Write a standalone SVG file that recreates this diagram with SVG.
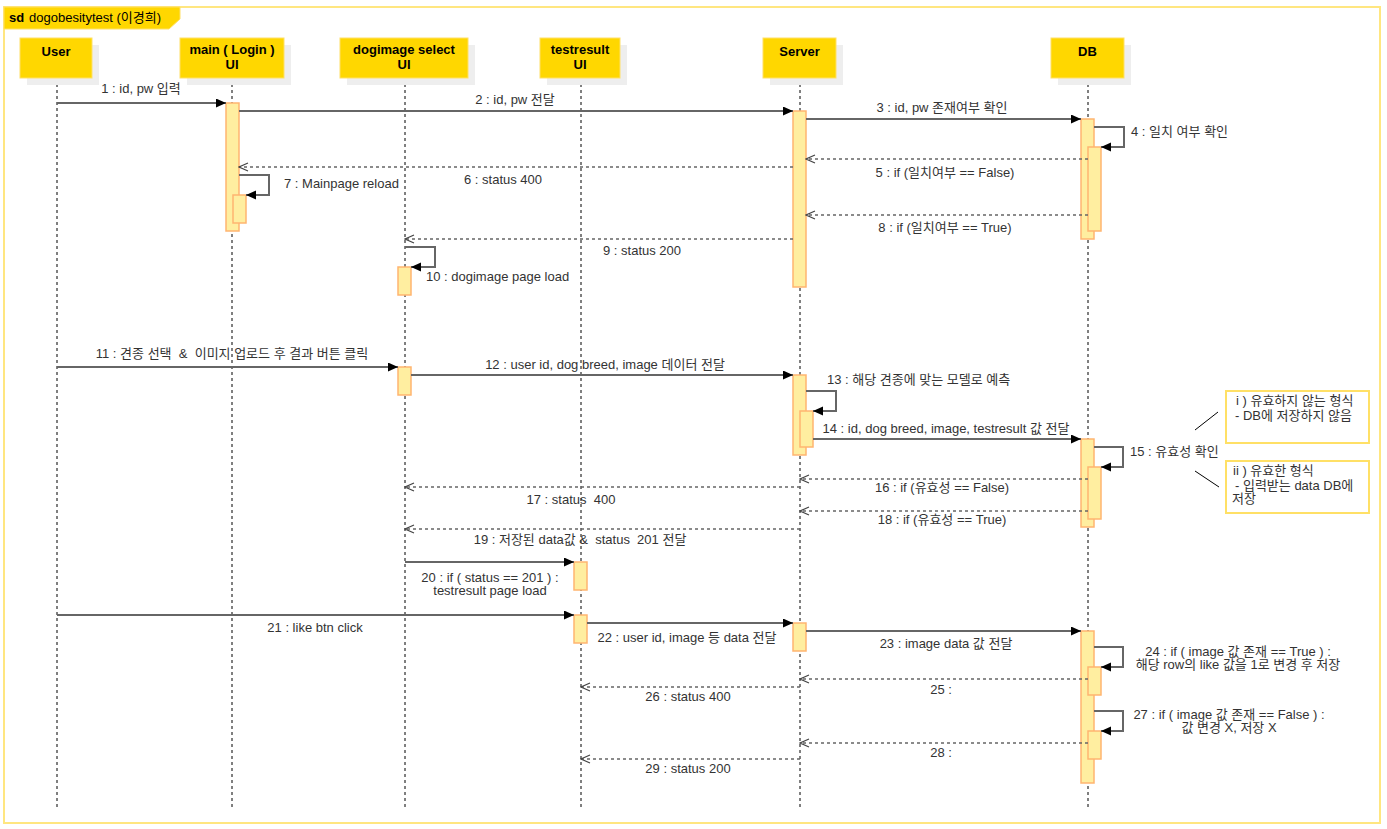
<svg xmlns="http://www.w3.org/2000/svg" width="1387" height="829" viewBox="0 0 1387 829">
<style>
text{font-family:"Liberation Sans","Noto Sans CJK KR",sans-serif;font-size:13px;fill:#333;white-space:pre}
.hd{font-weight:bold;fill:#000;text-anchor:middle}
.c{text-anchor:middle}
.hbox{fill:#FFD700;stroke:#FFE066;stroke-width:1}
.sh{fill:#EEEEEE}
.life{stroke:#000;stroke-width:1;stroke-dasharray:3 3;fill:none}
.act{fill:#FFEEA0;stroke:#FFB570;stroke-width:1.5}
.msg{stroke:#666;stroke-width:2;fill:none;marker-end:url(#block)}
.ret{stroke:#666;stroke-width:1.5;stroke-dasharray:3 3;fill:none;marker-end:url(#open)}
.note{fill:#fff;stroke:#FFE066;stroke-width:2}
.nl{stroke:#000;stroke-width:1;fill:none}
</style>
<defs>
<marker id="block" markerUnits="userSpaceOnUse" markerWidth="11" markerHeight="10" refX="10" refY="4.5" orient="auto"><path d="M0,0 L10,4.5 L0,9 z" fill="#000"/></marker>
<marker id="open" markerUnits="userSpaceOnUse" markerWidth="11" markerHeight="10" refX="9.5" refY="4.5" orient="auto"><path d="M0.5,0.5 L9.5,4.5 L0.5,8.5" fill="none" stroke="#444" stroke-width="1.2"/></marker>
</defs>
<rect width="1387" height="829" fill="#fff"/>
<g id="frame">
<rect x="4" y="7" width="1376" height="816" fill="none" stroke="#FFE680" stroke-width="2"/>
<polygon points="4,7 180,7 180,19 169,29 4,29" fill="#FFD700" stroke="#FFE066" stroke-width="1"/>
<text x="9" y="22" style="font-weight:bold;fill:#000">sd</text>
<text x="29" y="22" style="fill:#000">dogobesitytest (이경희)</text>
</g>
<g id="lifelines">
<line class="life" x1="57" y1="78" x2="57" y2="807"/>
<line class="life" x1="232" y1="78" x2="232" y2="807"/>
<line class="life" x1="405" y1="78" x2="405" y2="807"/>
<line class="life" x1="581" y1="78" x2="581" y2="807"/>
<line class="life" x1="800" y1="78" x2="800" y2="807"/>
<line class="life" x1="1088" y1="78" x2="1088" y2="807"/>
</g>
<g id="user"><rect class="sh" x="27" y="45" width="72" height="40"/><rect class="hbox" x="20" y="38" width="72" height="40"/><text class="hd" x="56" y="56">User</text></g>
<g id="main-ui"><rect class="sh" x="187" y="45" width="104" height="40"/><rect class="hbox" x="180" y="38" width="104" height="40"/><text class="hd" x="232" y="54">main ( Login )</text><text class="hd" x="232" y="68.6">UI</text></g>
<g id="dogimage-ui"><rect class="sh" x="347" y="45" width="128" height="40"/><rect class="hbox" x="340" y="38" width="128" height="40"/><text class="hd" x="404" y="54">dogimage select</text><text class="hd" x="404" y="68.6">UI</text></g>
<g id="testresult-ui"><rect class="sh" x="547" y="45" width="80" height="40"/><rect class="hbox" x="540" y="38" width="80" height="40"/><text class="hd" x="580" y="54">testresult</text><text class="hd" x="580" y="68.6">UI</text></g>
<g id="server"><rect class="sh" x="770" y="45" width="73" height="40"/><rect class="hbox" x="763" y="38" width="73" height="40"/><text class="hd" x="799.5" y="56">Server</text></g>
<g id="db"><rect class="sh" x="1058" y="45" width="73" height="40"/><rect class="hbox" x="1051" y="38" width="73" height="40"/><text class="hd" x="1087.5" y="56">DB</text></g>
<g id="activations">
<rect class="act" x="226" y="103" width="13" height="128"/>
<rect class="act" x="233" y="195" width="13" height="28"/>
<rect class="act" x="793" y="111" width="13" height="176"/>
<rect class="act" x="1081" y="119" width="13" height="120"/>
<rect class="act" x="1088" y="147" width="13" height="84"/>
<rect class="act" x="398" y="267" width="13" height="28"/>
<rect class="act" x="398" y="367" width="13" height="28"/>
<rect class="act" x="793" y="375" width="13" height="80"/>
<rect class="act" x="800" y="411" width="13" height="36"/>
<rect class="act" x="1081" y="439" width="13" height="88"/>
<rect class="act" x="1088" y="467" width="13" height="52"/>
<rect class="act" x="574" y="562" width="13" height="28"/>
<rect class="act" x="574" y="615" width="13" height="28"/>
<rect class="act" x="793" y="623" width="13" height="28"/>
<rect class="act" x="1081" y="631" width="13" height="152"/>
<rect class="act" x="1088" y="667" width="13" height="28"/>
<rect class="act" x="1088" y="731" width="13" height="28"/>
</g>
<g id="connectors">
<line class="msg" x1="57" y1="103" x2="226" y2="103"/>
<line class="msg" x1="239" y1="111" x2="793" y2="111"/>
<line class="msg" x1="806" y1="119" x2="1081" y2="119"/>
<path class="msg" d="M1094,127 H1124 V147 H1101"/>
<line class="ret" x1="1088" y1="159" x2="806" y2="159"/>
<line class="ret" x1="793" y1="167" x2="239" y2="167"/>
<path class="msg" d="M239,175 H269 V195 H246"/>
<line class="ret" x1="1088" y1="215" x2="806" y2="215"/>
<line class="ret" x1="793" y1="239" x2="405" y2="239"/>
<path class="msg" d="M405,247 H435 V267 H411"/>
<line class="msg" x1="57" y1="367" x2="398" y2="367"/>
<line class="msg" x1="411" y1="375" x2="793" y2="375"/>
<path class="msg" d="M806,391 H836 V411 H813"/>
<line class="msg" x1="813" y1="439" x2="1081" y2="439"/>
<path class="msg" d="M1094,447 H1123 V467 H1101"/>
<line class="ret" x1="1088" y1="479" x2="800" y2="479"/>
<line class="ret" x1="800" y1="487" x2="405" y2="487"/>
<line class="ret" x1="1088" y1="511" x2="800" y2="511"/>
<line class="ret" x1="800" y1="529" x2="405" y2="529"/>
<line class="msg" x1="405" y1="562" x2="574" y2="562"/>
<line class="msg" x1="57" y1="615" x2="574" y2="615"/>
<line class="msg" x1="587" y1="623" x2="793" y2="623"/>
<line class="msg" x1="806" y1="631" x2="1081" y2="631"/>
<path class="msg" d="M1094,647 H1123 V667 H1101"/>
<line class="ret" x1="1088" y1="679" x2="800" y2="679"/>
<line class="ret" x1="800" y1="687" x2="581" y2="687"/>
<path class="msg" d="M1094,711 H1123 V731 H1101"/>
<line class="ret" x1="1088" y1="743" x2="800" y2="743"/>
<line class="ret" x1="800" y1="759" x2="581" y2="759"/>
<line class="nl" x1="1195" y1="430" x2="1218" y2="412"/>
<line class="nl" x1="1195" y1="471" x2="1219" y2="487"/>
</g>
<g id="labels">
<text class="c" x="141" y="93">1 : id, pw 입력</text>
<text class="c" x="515" y="104">2 : id, pw 전달</text>
<text class="c" x="942" y="112">3 : id, pw 존재여부 확인</text>
<text x="1131" y="136">4 : 일치 여부 확인</text>
<text class="c" x="945" y="176.5">5 : if (일치여부 == False)</text>
<text class="c" x="503" y="184">6 : status 400</text>
<text x="284" y="188">7 : Mainpage reload</text>
<text class="c" x="945" y="232">8 : if (일치여부 == True)</text>
<text class="c" x="642" y="255">9 : status 200</text>
<text x="426" y="281">10 : dogimage page load</text>
<text class="c" x="232" y="357.5">11 : 견종 선택  &amp;  이미지 업로드 후 결과 버튼 클릭</text>
<text class="c" x="605" y="369">12 : user id, dog breed, image 데이터 전달</text>
<text x="827" y="384">13 : 해당 견종에 맞는 모델로 예측</text>
<text class="c" x="946" y="432.5">14 : id, dog breed, image, testresult 값 전달</text>
<text x="1130" y="456">15 : 유효성 확인</text>
<text class="c" x="942" y="492">16 : if (유효성 == False)</text>
<text class="c" x="571" y="504">17 : status  400</text>
<text class="c" x="942" y="524">18 : if (유효성 == True)</text>
<text class="c" x="580" y="544">19 : 저장된 data값 &amp;  status  201 전달</text>
<text class="c" x="490" y="581.5">20 : if ( status == 201 ) :</text>
<text class="c" x="490" y="594.5">testresult page load</text>
<text class="c" x="315" y="632">21 : like btn click</text>
<text class="c" x="687" y="641.5">22 : user id, image 등 data 전달</text>
<text class="c" x="946" y="648">23 : image data 값 전달</text>
<text class="c" x="1238" y="655.5">24 : if ( image 값 존재 == True ) :</text>
<text class="c" x="1238" y="668.5">해당 row의 like 값을 1로 변경 후 저장</text>
<text class="c" x="941" y="693.5">25 :</text>
<text class="c" x="688" y="701">26 : status 400</text>
<text class="c" x="1229" y="719">27 : if ( image 값 존재 == False ) :</text>
<text class="c" x="1229" y="732">값 변경 X, 저장 X</text>
<text class="c" x="941" y="757">28 :</text>
<text class="c" x="688" y="772.5">29 : status 200</text>
</g>
<g id="note1"><rect class="note" x="1226" y="391" width="143" height="52"/><text x="1236" y="404.5">i ) 유효하지 않는 형식</text><text x="1235" y="420">- DB에 저장하지 않음</text></g>
<g id="note2"><rect class="note" x="1226" y="461" width="143" height="52"/><text x="1233" y="475">ii ) 유효한 형식</text><text x="1235" y="490">- 입력받는 data DB에</text><text x="1232" y="502.5">저장</text></g>
</svg>
